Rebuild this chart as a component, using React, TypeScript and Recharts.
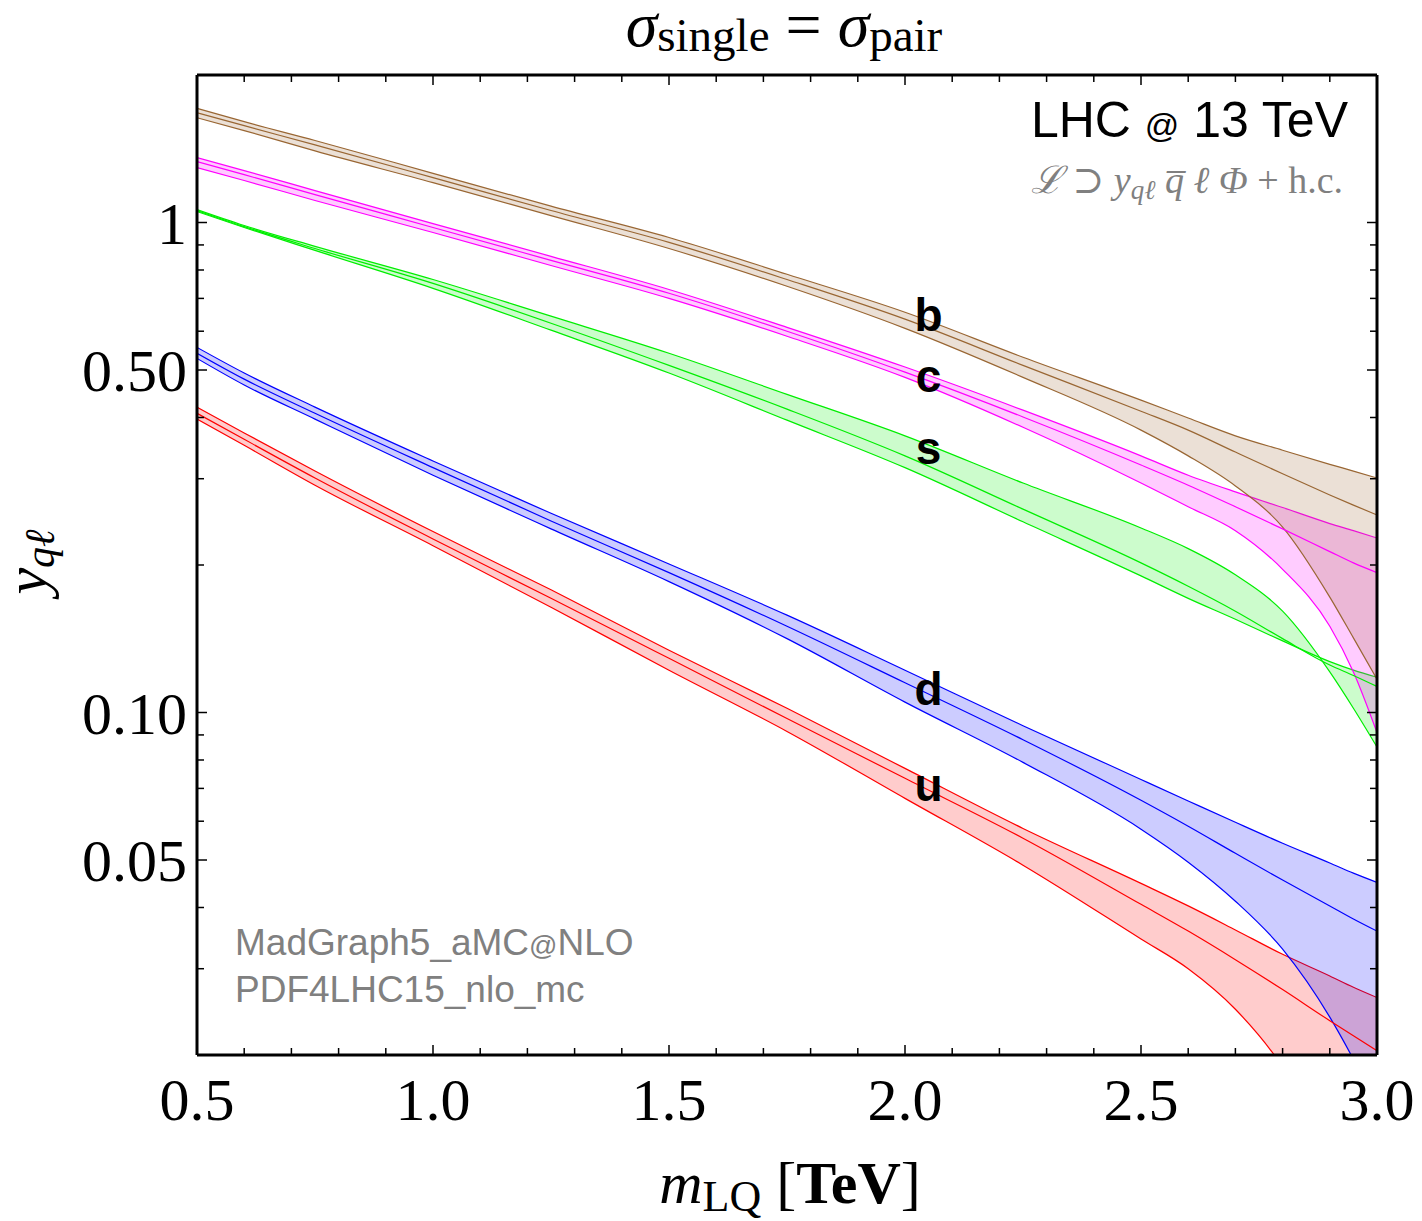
import React from 'react';
import { ComposedChart, Area, Line, XAxis, YAxis, ReferenceDot } from 'recharts';

// leptoquark mass [TeV]
const mLQ = [0.5, 0.6, 0.75, 1.0, 1.25, 1.5, 1.75, 2.0, 2.25, 2.5, 2.6, 2.7, 2.8, 2.9, 2.95, 3.0];

// y_ql where sigma_single = sigma_pair, per quark flavour (lower / central / upper)
const bUp = [1.71, 1.606, 1.47, 1.26, 1.08, 0.932, 0.784, 0.656, 0.531, 0.434, 0.399, 0.367, 0.343, 0.321, 0.311, 0.301];
const bMid = [1.675, 1.576, 1.44, 1.235, 1.058, 0.911, 0.765, 0.635, 0.511, 0.412, 0.377, 0.34, 0.307, 0.278, 0.265, 0.253];
const bLo = [1.636, 1.54, 1.4, 1.206, 1.033, 0.885, 0.741, 0.608, 0.483, 0.377, 0.334, 0.29, 0.239, 0.172, 0.142, 0.117];

const cUp = [1.356, 1.276, 1.162, 0.995, 0.853, 0.73, 0.611, 0.507, 0.414, 0.334, 0.305, 0.282, 0.262, 0.243, 0.235, 0.227];
const cMid = [1.331, 1.252, 1.14, 0.977, 0.837, 0.717, 0.6, 0.495, 0.401, 0.32, 0.291, 0.263, 0.237, 0.213, 0.202, 0.193];
const cLo = [1.294, 1.218, 1.109, 0.954, 0.817, 0.7, 0.586, 0.483, 0.382, 0.294, 0.263, 0.235, 0.196, 0.15, 0.121, 0.091];

const sUp = [1.063, 0.986, 0.894, 0.765, 0.644, 0.541, 0.446, 0.367, 0.294, 0.238, 0.216, 0.191, 0.161, 0.121, 0.102, 0.085];
const sMid = [1.058, 0.981, 0.885, 0.751, 0.623, 0.511, 0.416, 0.334, 0.26, 0.202, 0.181, 0.161, 0.1415, 0.125, 0.119, 0.113];
const sLo = [1.053, 0.977, 0.877, 0.734, 0.603, 0.493, 0.395, 0.316, 0.245, 0.19, 0.171, 0.155, 0.14, 0.127, 0.122, 0.118];

const dUp = [0.556, 0.493, 0.42, 0.326, 0.255, 0.201, 0.158, 0.122, 0.094, 0.073, 0.066, 0.0597, 0.0541, 0.0493, 0.047, 0.045];
const dMid = [0.541, 0.479, 0.408, 0.316, 0.246, 0.193, 0.15, 0.115, 0.088, 0.0662, 0.0586, 0.0516, 0.0455, 0.0403, 0.0379, 0.0358];
const dLo = [0.528, 0.466, 0.397, 0.305, 0.237, 0.185, 0.1415, 0.105, 0.0791, 0.0578, 0.0495, 0.0412, 0.0329, 0.0239, 0.0196, 0.0157];

const uUp = [0.42, 0.372, 0.311, 0.234, 0.178, 0.134, 0.102, 0.0769, 0.058, 0.0448, 0.0403, 0.036, 0.0321, 0.029, 0.0275, 0.0262];
const uMid = [0.408, 0.361, 0.301, 0.226, 0.171, 0.129, 0.0972, 0.0734, 0.0554, 0.0406, 0.0358, 0.0313, 0.0272, 0.0235, 0.0219, 0.0204];
const uLo = [0.397, 0.351, 0.291, 0.219, 0.164, 0.122, 0.0915, 0.0668, 0.0488, 0.0345, 0.03, 0.0248, 0.0189, 0.0126, 0.00995, 0.0077];

// quark labels placed at m = 2.05 TeV
const quarks = ['b', 'c', 's', 'd', 'u'];
const quarkLabelY = [0.65, 0.488, 0.347, 0.112, 0.0711];
const labelMass = 2.05;

// axes
const xMajor = [0.5, 1.0, 1.5, 2.0, 2.5, 3.0];
const xLabels = ['0.5', '1.0', '1.5', '2.0', '2.5', '3.0'];
const xMinor = [0.6, 0.7, 0.8, 0.9, 1.1, 1.2, 1.3, 1.4, 1.6, 1.7, 1.8, 1.9, 2.1, 2.2, 2.3, 2.4, 2.6, 2.7, 2.8, 2.9];
const yMajor = [0.05, 0.1, 0.5, 1];
const yLabels = ['0.05', '0.10', '0.50', '1'];
const yMinor = [0.02, 0.03, 0.04, 0.06, 0.07, 0.08, 0.09, 0.2, 0.3, 0.4, 0.6, 0.7, 0.8, 0.9, 2];

const rows = mLQ.map((m, i) => ({
    m,
    bLo: bLo[i], bMid: bMid[i], bUp: bUp[i],
    cLo: cLo[i], cMid: cMid[i], cUp: cUp[i],
    sLo: sLo[i], sMid: sMid[i], sUp: sUp[i],
    dLo: dLo[i], dMid: dMid[i], dUp: dUp[i],
    uLo: uLo[i], uMid: uMid[i], uUp: uUp[i],
}));

const bands = [
    { id: 'u', color: '#ff0000' },
    { id: 'd', color: '#0000ff' },
    { id: 's', color: '#00ee00' },
    { id: 'c', color: '#ff00ff' },
    { id: 'b', color: '#996633' },
];

const serif = '"Liberation Serif", "DejaVu Serif", serif';
const sans = '"Liberation Sans", Arial, sans-serif';
const gray = '#808080';

const frame = { stroke: '#000', strokeWidth: 3 };
const tickLn = { stroke: '#000', strokeWidth: 1.5 };
const yDomain: [number, number] = [0.02, 2];
const xDomain: [number, number] = [0.5, 3];
const noLabel = () => '';

export default function App() {
    return (
        <div style={{ position: 'absolute', left: 0, top: 0, width: 1422, height: 1221, background: '#fff' }}>
            <ComposedChart
                width={1422}
                height={1221}
                data={rows}
                margin={{ top: 75, right: 45, bottom: 165, left: 196 }}
            >
                {/* bottom: frame + inward ticks, then labels */}
                <XAxis xAxisId="x" dataKey="m" type="number" domain={xDomain} allowDataOverflow
                    ticks={xMajor} interval={0} mirror height={1} tickSize={10} tickFormatter={noLabel}
                    axisLine={frame} tickLine={tickLn} />
                <XAxis xAxisId="xm" dataKey="m" type="number" domain={xDomain} allowDataOverflow
                    ticks={xMinor} interval={0} mirror height={1} tickSize={6} tickFormatter={noLabel}
                    axisLine={false} tickLine={tickLn} />
                <XAxis xAxisId="xl" dataKey="m" type="number" domain={xDomain} allowDataOverflow
                    ticks={xMajor} interval={0} height={1} tickSize={0} tickMargin={22}
                    axisLine={false} tickLine={false}
                    tickFormatter={(v) => xLabels[xMajor.indexOf(v)]}
                    tick={{ fontFamily: serif, fontSize: 60, fill: '#000' }} />
                {/* top frame */}
                <XAxis xAxisId="xt" dataKey="m" orientation="top" type="number" domain={xDomain} allowDataOverflow
                    ticks={xMajor} interval={0} mirror height={1} tickSize={10} tickFormatter={noLabel}
                    axisLine={frame} tickLine={tickLn} />
                <XAxis xAxisId="xtm" dataKey="m" orientation="top" type="number" domain={xDomain} allowDataOverflow
                    ticks={xMinor} interval={0} mirror height={1} tickSize={6} tickFormatter={noLabel}
                    axisLine={false} tickLine={tickLn} />

                {/* left: frame + ticks, labels */}
                <YAxis yAxisId="y" type="number" scale="log" domain={yDomain} allowDataOverflow
                    ticks={yMajor} interval={0} mirror width={1} tickSize={10} tickFormatter={noLabel}
                    axisLine={frame} tickLine={tickLn} />
                <YAxis yAxisId="ym" type="number" scale="log" domain={yDomain} allowDataOverflow
                    ticks={yMinor} interval={0} mirror width={1} tickSize={6} tickFormatter={noLabel}
                    axisLine={false} tickLine={tickLn} />
                <YAxis yAxisId="yl" type="number" scale="log" domain={yDomain} allowDataOverflow
                    ticks={yMajor} interval={0} width={1} tickSize={0} tickMargin={10}
                    axisLine={false} tickLine={false}
                    tickFormatter={(v) => yLabels[yMajor.indexOf(v)]}
                    tick={{ fontFamily: serif, fontSize: 60, fill: '#000' }} />
                {/* right frame */}
                <YAxis yAxisId="yr" orientation="right" type="number" scale="log" domain={yDomain} allowDataOverflow
                    ticks={yMajor} interval={0} mirror width={1} tickSize={10} tickFormatter={noLabel}
                    axisLine={frame} tickLine={tickLn} />
                <YAxis yAxisId="yrm" orientation="right" type="number" scale="log" domain={yDomain} allowDataOverflow
                    ticks={yMinor} interval={0} mirror width={1} tickSize={6} tickFormatter={noLabel}
                    axisLine={false} tickLine={tickLn} />

                {bands.map((b) => (
                    <Area
                        key={b.id + 'band'}
                        xAxisId="x"
                        yAxisId="y"
                        type="monotone"
                        dataKey={(r: any) => [r[b.id + 'Lo'], r[b.id + 'Up']]}
                        stroke={b.color}
                        strokeWidth={1.2}
                        fill={b.color}
                        fillOpacity={0.2}
                        dot={false}
                        activeDot={false}
                        isAnimationActive={false}
                    />
                ))}
                {bands.map((b) => (
                    <Line
                        key={b.id + 'mid'}
                        xAxisId="x"
                        yAxisId="y"
                        type="monotone"
                        dataKey={b.id + 'Mid'}
                        stroke={b.color}
                        strokeWidth={1.2}
                        dot={false}
                        activeDot={false}
                        isAnimationActive={false}
                    />
                ))}

                {quarks.map((q, i) => (
                    <ReferenceDot
                        key={q}
                        xAxisId="x"
                        yAxisId="y"
                        x={labelMass}
                        y={quarkLabelY[i]}
                        r={1}
                        fill="none"
                        stroke="none"
                        label={{ value: q, position: 'center', fontFamily: sans, fontSize: 46, fontWeight: 700, fill: '#000' }}
                    />
                ))}
            </ComposedChart>

            <svg width={1422} height={1221} style={{ position: 'absolute', left: 0, top: 0, pointerEvents: 'none' }}>
                {/* title */}
                <text x={784} y={46} textAnchor="middle" fontFamily={serif} fontSize={64}>
                    <tspan fontStyle="italic">σ</tspan>
                    <tspan fontSize={47} dy={5}>single</tspan>
                    <tspan dy={-5}> = </tspan>
                    <tspan fontStyle="italic">σ</tspan>
                    <tspan fontSize={47} dy={5}>pair</tspan>
                </text>

                {/* axis titles */}
                <text x={790} y={1203} textAnchor="middle" fontFamily={serif} fontSize={60}>
                    <tspan fontStyle="italic">m</tspan>
                    <tspan fontSize={44} dy={8}>LQ</tspan>
                    <tspan dy={-8}> [</tspan>
                    <tspan fontWeight={700}>TeV</tspan>
                    <tspan>]</tspan>
                </text>
                <text transform="translate(46, 562) rotate(-90)" textAnchor="middle" fontFamily={serif} fontSize={60}>
                    <tspan fontStyle="italic">y</tspan>
                    <tspan fontSize={42} fontStyle="italic" dy={8}>qℓ</tspan>
                </text>

                {/* annotations */}
                <text x={1348} y={137} textAnchor="end" fontFamily={sans} fontSize={50}>
                    LHC <tspan fontSize={34}>@</tspan> 13 TeV
                </text>
                <text x={1343} y={193} textAnchor="end" fontFamily={serif} fontSize={38} fill={gray}>
                    <tspan fontStyle="italic">ℒ ⊃ y</tspan>
                    <tspan fontSize={27} fontStyle="italic" dy={6}>qℓ</tspan>
                    <tspan fontStyle="italic" dy={-6}> q̅ ℓ Φ</tspan>
                    <tspan> + h.c.</tspan>
                </text>
                <text x={235} y={955} fontFamily={sans} fontSize={37} fill={gray}>
                    MadGraph5_aMC<tspan fontSize={28}>@</tspan>NLO
                </text>
                <text x={235} y={1002} fontFamily={sans} fontSize={37} fill={gray}>
                    PDF4LHC15_nlo_mc
                </text>
            </svg>
        </div>
    );
}
